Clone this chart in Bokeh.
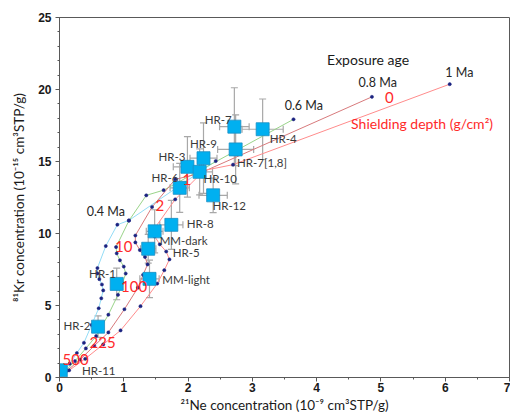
from bokeh.plotting import figure
from bokeh.models import Range1d, ColumnDataSource, Whisker, TeeHead, FixedTicker
from bokeh.core.properties import value
from bokeh.embed import file_html
from bokeh.resources import INLINE

# ---- samples ----
samples = ["HR-11", "HR-2", "HR-1", "MM-light", "HR-5", "MM-dark", "HR-8", "HR-6",
           "HR-3", "HR-10", "HR-9", "HR-12", "HR-7", "HR-7[1,8]", "HR-4"]
ne21 = [0.02, 0.60, 0.89, 1.40, 1.38, 1.48, 1.74, 1.87, 1.99, 2.18, 2.24, 2.39, 2.72, 2.74, 3.16]
kr81 = [0.50, 3.53, 6.50, 6.85, 8.94, 10.15, 10.60, 13.17, 14.63, 14.28, 15.23, 12.65, 17.42, 15.84, 17.24]
ne21_err = [0.03, 0.05, 0.08, 0.15, 0.12, 0.13, 0.18, 0.15, 0.22, 0.20, 0.21, 0.22, 0.23, 0.28, 0.32]
kr81_err = [0.10, 0.75, 1.10, 1.30, 1.00, 1.50, 1.70, 1.70, 2.10, 1.60, 2.45, 1.20, 2.70, 2.40, 2.10]

# ---- model curves (exposure ages), deep -> surface ----
ne_04 = [0.02, 0.06, 0.16, 0.27, 0.38, 0.50, 0.61, 0.65, 0.68, 0.66, 0.62, 0.59, 0.59, 0.72, 0.90, 1.08, 2.43]
kr_04 = [0.26, 0.37, 0.96, 1.70, 2.41, 3.65, 4.81, 5.50, 6.05, 6.46, 6.83, 7.23, 7.60, 9.13, 10.61, 10.91, 15.03]
ne_06 = [0.03, 0.09, 0.24, 0.41, 0.57, 0.76, 0.91, 0.98, 1.03, 1.00, 0.94, 0.89, 0.88, 1.08, 1.35, 1.62, 3.64]
kr_06 = [0.31, 0.44, 1.14, 2.02, 2.88, 4.36, 5.74, 6.56, 7.22, 7.70, 8.14, 8.62, 9.06, 10.89, 12.65, 13.01, 17.93]
ne_08 = [0.04, 0.12, 0.32, 0.54, 0.76, 1.01, 1.22, 1.30, 1.37, 1.33, 1.25, 1.18, 1.18, 1.44, 1.80, 2.16, 4.86]
kr_08 = [0.34, 0.48, 1.24, 2.20, 3.13, 4.74, 6.24, 7.13, 7.85, 8.37, 8.85, 9.38, 9.86, 11.84, 13.76, 14.14, 19.49]
ne_10 = [0.05, 0.15, 0.40, 0.68, 0.95, 1.26, 1.52, 1.63, 1.71, 1.66, 1.56, 1.48, 1.47, 1.80, 2.25, 2.70, 6.07]
kr_10 = [0.35, 0.50, 1.30, 2.30, 3.27, 4.95, 6.52, 7.45, 8.20, 8.75, 9.25, 9.80, 10.30, 12.37, 14.38, 14.78, 20.37]

age_labels = ["0.4 Ma", "0.6 Ma", "0.8 Ma", "1 Ma"]
depth_labels = ["0", "1", "2", "10", "100", "225", "500"]

FONT = value("Lato")

p = figure(width=510, height=419, x_range=Range1d(0, 7), y_range=Range1d(0, 25),
           output_backend="svg", toolbar_location=None,
           min_border_left=59, min_border_right=1, min_border_top=17, min_border_bottom=42)
p.grid.visible = False
p.outline_line_color = "#595959"
p.background_fill_color = "white"
p.border_fill_color = "white"

# curves
curve_specs = [(ne_04, kr_04, "#92dcf6"), (ne_06, kr_06, "#9ad48a"),
               (ne_08, kr_08, "#d87a7c"), (ne_10, kr_10, "#ff8c8c")]
for xs, ys, col in curve_specs:
    p.line(xs, ys, line_color=col, line_width=1.0)
for xs, ys, col in curve_specs:
    p.scatter(xs, ys, size=3.2, fill_color="#1b2380", line_color="#1b2380", line_width=0.5)

# error bars
src = ColumnDataSource(dict(
    x=ne21, y=kr81,
    xl=[a - b for a, b in zip(ne21, ne21_err)], xu=[a + b for a, b in zip(ne21, ne21_err)],
    yl=[a - b for a, b in zip(kr81, kr81_err)], yu=[a + b for a, b in zip(kr81, kr81_err)],
))
ecol = "#a8a8a8"
p.add_layout(Whisker(source=src, base="x", lower="yl", upper="yu", dimension="height",
                     line_color=ecol, line_width=1.2,
                     lower_head=TeeHead(size=7, line_color=ecol, line_width=1.2),
                     upper_head=TeeHead(size=7, line_color=ecol, line_width=1.2)))
p.add_layout(Whisker(source=src, base="y", lower="xl", upper="xu", dimension="width",
                     line_color=ecol, line_width=1.2,
                     lower_head=TeeHead(size=7, line_color=ecol, line_width=1.2),
                     upper_head=TeeHead(size=7, line_color=ecol, line_width=1.2)))

p.scatter(ne21, kr81, marker="square", size=13, fill_color="#00b0f0", line_color="#1a8fc4", line_width=0.8)

# sample labels
lab_x = [0.61, 0.27, 0.67, 1.97, 1.97, 1.93, 2.19, 1.64, 1.75, 2.50, 2.24, 2.64, 2.47, 3.15, 3.48]
lab_y = [0.51, 3.60, 7.20, 6.78, 8.71, 9.52, 10.68, 13.91, 15.37, 13.82, 16.26, 11.94, 17.90, 14.96, 16.58]
p.text(lab_x, lab_y, text=samples, text_font=FONT, text_font_size="11.5px", text_color="#3a3a3a",
       text_align="center", text_baseline="middle")

# age labels
p.text([0.72, 3.80, 4.95, 6.22], [11.5, 18.86, 20.49, 21.18], text=age_labels, text_font=FONT,
       text_font_size="12.5px", text_color="#262626", text_align="center", text_baseline="middle")
p.text([4.80], [22.06], text=["Exposure age"], text_font=FONT, text_font_size="14px",
       text_color="#1a1a1a", text_align="center", text_baseline="middle")

# depth labels
p.text([5.13, 1.98, 1.56, 1.00, 1.16, 0.67, 0.25], [19.44, 13.75, 11.94, 9.10, 6.30, 2.41, 1.27],
       text=depth_labels, text_font=FONT, text_font_size="15px", text_color="#ff2a2a",
       text_align="center", text_baseline="middle")
p.text([5.64], [17.65], text=["Shielding depth (g/cm²)"], text_font=FONT, text_font_size="14px",
       text_color="#ff2a2a", text_align="center", text_baseline="middle")

# axes
for ax in (p.xaxis[0], p.yaxis[0]):
    ax.axis_line_color = "#595959"
    ax.major_tick_line_color = "#595959"
    ax.minor_tick_line_color = "#595959"
    ax.major_tick_in = 0
    ax.minor_tick_in = 0
    ax.major_label_text_font = "Liberation Sans"
    ax.major_label_text_font_style = "bold"
    ax.major_label_text_font_size = "12px"
    ax.major_label_text_color = "#1a1a1a"
    ax.axis_label_text_font = "Lato"
    ax.axis_label_text_font_style = "normal"
    ax.axis_label_text_font_size = "13.5px"
    ax.axis_label_text_color = "#1a1a1a"

p.xaxis.major_tick_out = 4
p.xaxis.minor_tick_out = 2
p.xaxis.major_label_standoff = 1
p.xaxis.axis_label_standoff = 2
p.yaxis.major_tick_out = 4
p.yaxis.minor_tick_out = 2
p.yaxis.major_label_standoff = 4
p.yaxis.axis_label_standoff = 8
p.xaxis.axis_label = "²¹Ne concentration (10⁻⁹ cm³STP/g)"
p.yaxis.axis_label = "⁸¹Kr concentration (10⁻¹⁵ cm³STP/g)"

p.xaxis.ticker = FixedTicker(ticks=[0, 1, 2, 3, 4, 5, 6, 7], minor_ticks=[i * 0.5 for i in range(15)])
p.yaxis.ticker = FixedTicker(ticks=[0, 5, 10, 15, 20, 25], minor_ticks=list(range(26)))

open("out.html", "w").write(file_html(p, INLINE))
